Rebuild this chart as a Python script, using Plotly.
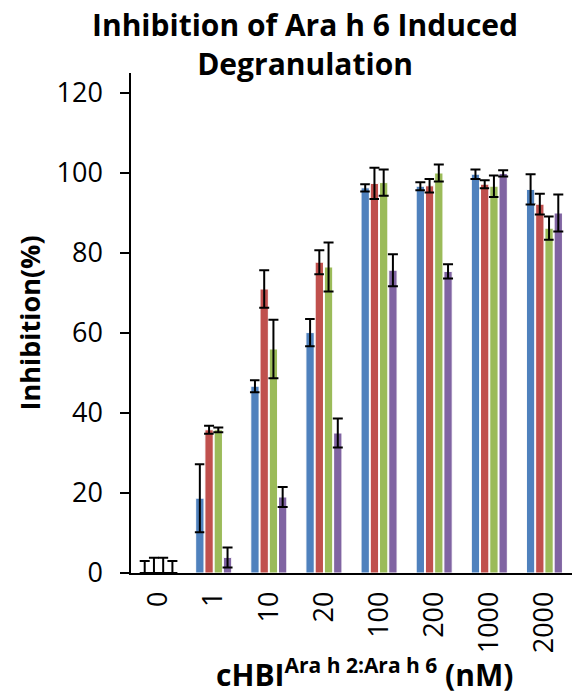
import plotly.graph_objects as go

categories = ["0", "1", "10", "20", "100", "200", "1000", "2000"]
series_names = ["S1", "S2", "S3", "S4"]
colors = ["#4F81BD", "#C0504D", "#9BBB59", "#8064A2"]

blue = [0, 18.7, 46.7, 60.1, 96.3, 96.7, 99.7, 95.9]
red = [0, 35.8, 71.0, 77.7, 97.4, 96.8, 97.2, 92.2]
green = [0, 35.8, 56.0, 76.5, 97.6, 100.0, 96.7, 86.2]
purple = [0, 3.9, 19.0, 35.0, 75.7, 75.4, 99.9, 90.0]

blue_err = [3.0, 8.5, 1.5, 3.4, 0.9, 1.0, 1.2, 3.8]
red_err = [3.8, 1.0, 4.7, 3.0, 3.9, 1.7, 1.0, 2.6]
green_err = [3.8, 0.6, 7.3, 6.1, 3.3, 2.1, 2.7, 2.9]
purple_err = [3.0, 2.5, 2.5, 3.6, 4.0, 1.8, 0.8, 4.6]

values = [blue, red, green, purple]
errors = [blue_err, red_err, green_err, purple_err]

FONT = "Open Sans"

fig = go.Figure()
for name, vals, errs, col in zip(series_names, values, errors, colors):
    minus = [min(e, v) for e, v in zip(errs, vals)]
    fig.add_trace(go.Bar(
        x=categories, y=vals, name=name,
        marker=dict(color=col, line=dict(color="white", width=1)),
        error_y=dict(type="data", array=errs, arrayminus=minus, visible=True,
                     color="black", thickness=2, width=5),
    ))

fig.update_layout(
    width=579, height=700,
    barmode="group", bargap=0.33, bargroupgap=0.1,
    plot_bgcolor="white", paper_bgcolor="white",
    showlegend=False,
    margin=dict(l=131, r=7, t=73, b=127),
    font=dict(family=FONT, color="black"),
)
fig.update_yaxes(
    range=[0, 125], tickvals=[0, 20, 40, 60, 80, 100, 120],
    showline=True, linecolor="black", linewidth=1.5,
    ticks="outside", ticklen=9, tickcolor="black", tickwidth=1.5,
    showgrid=False, zeroline=False,
    tickfont=dict(family=FONT, size=27, color="black"),
    ticklabelstandoff=12,
    title=dict(text="<b>Inhibition(%)</b>", font=dict(family=FONT, size=27, color="black"), standoff=8),
)
fig.update_xaxes(
    type="category",
    showline=True, linecolor="black", linewidth=1.5,
    ticks="", showgrid=False,
    tickangle=-90,
    tickfont=dict(family=FONT, size=27, color="black"),
    ticklabelstandoff=6,
)
fig.add_annotation(
    text="<b>Inhibition of Ara h 6 Induced<br>Degranulation</b>",
    xref="paper", yref="paper", x=0.395, y=1.142, xanchor="center", yanchor="top",
    showarrow=False, font=dict(family=FONT, size=30, color="black"),
)
fig.add_annotation(
    text="<b>cHBI<sup>Ara h 2:Ara h 6</sup> (nM)</b>",
    xref="paper", yref="paper", x=0.53, y=-0.248, yanchor="bottom", xanchor="center",
    showarrow=False, font=dict(family=FONT, size=30, color="black"),
)

fig.write_html("out.html")
